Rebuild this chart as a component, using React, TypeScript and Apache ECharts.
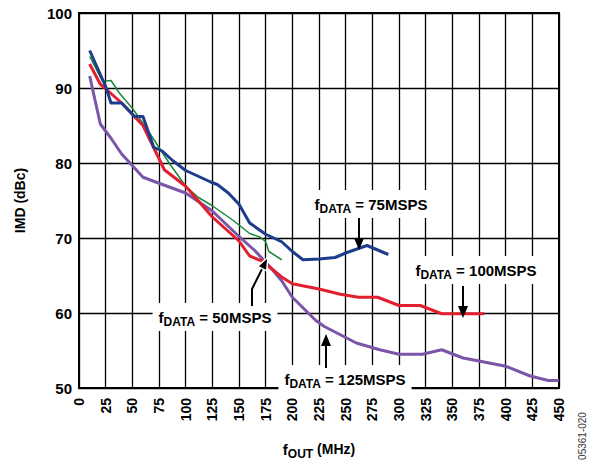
import React, { useEffect, useRef } from "react";
import * as echarts from "echarts";

// fDATA = 75MSPS (blue)
const fout75 = [10, 25, 30, 40, 52, 60, 70, 78, 88, 100, 123, 130, 140, 150, 160, 175, 190, 200, 210, 225, 240, 250, 270, 290];
const imd75 = [95, 90.2, 88, 88, 86.2, 86.2, 82.1, 81.6, 80.3, 79, 77.5, 77.1, 76, 74.5, 72, 70.5, 69.5, 68.2, 67.1, 67.2, 67.4, 68, 69, 67.8];

// fDATA = 100MSPS (red)
const fout100 = [10, 20, 25, 40, 60, 80, 100, 125, 150, 160, 172, 190, 200, 225, 245, 262, 280, 300, 320, 340, 380];
const imd100 = [93.2, 90.5, 89.9, 88, 85, 79.1, 76.9, 72.8, 69.6, 67.6, 66.9, 64.8, 63.9, 63.2, 62.5, 62.1, 62.1, 61, 61, 59.9, 59.9];

// fDATA = 50MSPS (green)
const fout50 = [10, 22, 30, 38, 50, 63, 73, 85, 100, 112, 125, 145, 160, 170, 175, 178, 190];
const imd50 = [94.2, 90.9, 91, 89.3, 87.3, 84.7, 82.5, 79.9, 76.9, 75.4, 74.3, 72.3, 70.6, 70.1, 69.5, 68.2, 67.1];

// fDATA = 125MSPS (purple)
const fout125 = [10, 20, 30, 40, 60, 75, 100, 125, 150, 165, 180, 190, 200, 222, 230, 260, 282, 300, 322, 340, 360, 375, 400, 423, 440, 450];
const imd125 = [91.6, 85.2, 83.3, 81.2, 78.1, 77.3, 76, 73.6, 70.2, 68.3, 66, 64.3, 62.1, 59, 58.2, 56, 55.1, 54.5, 54.5, 55.1, 54, 53.6, 52.9, 51.6, 51, 51];

const xTicks = { min: 0, max: 450, interval: 25 };
const yTicks = { min: 50, max: 100, interval: 10 };

const FONT = "'Liberation Sans', Arial, Helvetica, sans-serif";

const zip = (xs: number[], ys: number[]) => xs.map((x, i) => [x, ys[i]]);

const richLabel = (rate: string) => ({
  text: `{f|f}{sub|DATA}{n| = ${rate}}`,
  rich: {
    f: { fontSize: 15, fontWeight: "bold", fontFamily: FONT, fill: "#000", lineHeight: 22, verticalAlign: "middle" },
    sub: { fontSize: 12, fontWeight: "bold", fontFamily: FONT, fill: "#000", lineHeight: 14, verticalAlign: "bottom" },
    n: { fontSize: 15, fontWeight: "bold", fontFamily: FONT, fill: "#000", lineHeight: 22, verticalAlign: "middle" },
  },
});

const label = (rate: string, x: number, y: number) => ({
  type: "text",
  x,
  y,
  z: 100,
  style: {
    ...richLabel(rate),
    align: "center",
    verticalAlign: "middle",
    backgroundColor: "#fff",
    padding: [3, 6, 3, 6],
  },
});

const arrowDown = (x: number, y0: number, tipY: number) => [
  { type: "line", z: 101, shape: { x1: x, y1: y0, x2: x, y2: tipY - 10 }, style: { stroke: "#000", lineWidth: 2 } },
  { type: "polygon", z: 101, shape: { points: [[x - 5, tipY - 12], [x + 5, tipY - 12], [x, tipY]] }, style: { fill: "#000" } },
];
const arrowUp = (x: number, y0: number, tipY: number) => [
  { type: "line", z: 101, shape: { x1: x, y1: y0, x2: x, y2: tipY + 10 }, style: { stroke: "#000", lineWidth: 2 } },
  { type: "polygon", z: 101, shape: { points: [[x - 5, tipY + 12], [x + 5, tipY + 12], [x, tipY]] }, style: { fill: "#000" } },
];

export default function App() {
  const ref = useRef<HTMLDivElement>(null);
  useEffect(() => {
    if (!ref.current) return;
    const chart = echarts.init(ref.current, null, { renderer: "svg" });
    const lineSeries = (name: string, data: number[][], color: string, width: number, z: number) => ({
      name,
      type: "line",
      data,
      symbol: "none",
      smooth: false,
      z,
      lineStyle: { color, width, join: "round" },
      itemStyle: { color },
    });
    chart.setOption({
      animation: false,
      backgroundColor: "#fff",
      grid: { left: 79, right: 36, top: 13, bottom: 69, show: true, borderColor: "#000", borderWidth: 2, containLabel: false },
      xAxis: {
        type: "value",
        min: xTicks.min,
        max: xTicks.max,
        interval: xTicks.interval,
        axisLine: { show: false },
        axisTick: { show: false },
        splitLine: { show: true, lineStyle: { color: "#000", width: 1.3 } },
        axisLabel: { rotate: 90, margin: 10, fontSize: 14, fontWeight: "bold", color: "#000", fontFamily: FONT },
        name: "{f|f}{sub|OUT}{n| (MHz)}",
        nameLocation: "middle",
        nameGap: 50,
        nameTextStyle: {
          rich: {
            f: { fontSize: 15, fontWeight: "bold", fontFamily: FONT, color: "#000", lineHeight: 22, verticalAlign: "middle" },
            sub: { fontSize: 12, fontWeight: "bold", fontFamily: FONT, color: "#000", lineHeight: 14, verticalAlign: "bottom" },
            n: { fontSize: 14, fontWeight: "bold", fontFamily: FONT, color: "#000", lineHeight: 22, verticalAlign: "middle" },
          },
        },
      },
      yAxis: {
        type: "value",
        min: yTicks.min,
        max: yTicks.max,
        interval: yTicks.interval,
        axisLine: { show: false },
        axisTick: { show: false },
        splitLine: { show: true, lineStyle: { color: "#000", width: 1.3 } },
        axisLabel: { margin: 7, fontSize: 15, fontWeight: "bold", color: "#000", fontFamily: FONT },
        name: "IMD (dBc)",
        nameLocation: "middle",
        nameGap: 52,
        nameTextStyle: { fontSize: 14, fontWeight: "bold", color: "#000", fontFamily: FONT },
      },
      series: [
        lineSeries("50MSPS", zip(fout50, imd50), "#17893b", 1.5, 2),
        lineSeries("125MSPS", zip(fout125, imd125), "#7b55a8", 3, 3),
        lineSeries("100MSPS", zip(fout100, imd100), "#e11f2f", 3, 4),
        lineSeries("75MSPS", zip(fout75, imd75), "#1c3d8c", 3, 5),
      ],
      graphic: [
        label("75MSPS", 371, 204),
        ...arrowDown(359, 218, 250),
        label("100MSPS", 476, 270),
        ...arrowDown(463, 286, 318),
        label("125MSPS", 345, 379),
        ...arrowUp(326, 368, 334),
        label("50MSPS", 215, 317),
        {
          type: "polyline",
          z: 101,
          shape: { points: [[252, 306], [252, 289], [262.2, 268.6]] },
          style: { stroke: "#000", lineWidth: 2, fill: "none" },
        },
        {
          type: "polygon",
          z: 101,
          shape: { points: [[266.7, 270.8], [257.7, 266.4], [268, 257]] },
          style: { fill: "#000", stroke: "#fff", lineWidth: 1.5 },
        },
        {
          type: "text",
          x: 582,
          y: 436,
          rotation: Math.PI / 2,
          z: 100,
          style: { text: "05361-020", fontSize: 10, fontFamily: FONT, fill: "#333", align: "center", verticalAlign: "middle" },
        },
      ],
    });
    return () => chart.dispose();
  }, []);
  return <div ref={ref} style={{ position: "fixed", left: 0, top: 0, width: 595, height: 465 }} />;
}
